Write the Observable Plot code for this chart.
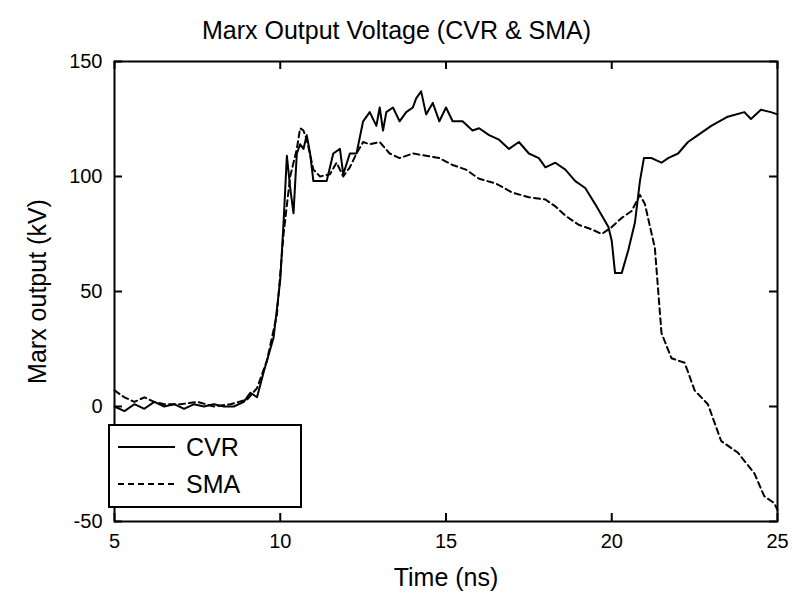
<!DOCTYPE html><html><head><meta charset="utf-8">
<script src="https://cdn.jsdelivr.net/npm/d3@7"></script>
<script src="https://cdn.jsdelivr.net/npm/@observablehq/plot@0.6"></script>
<style>body{margin:0;background:#fff;font-family:"Liberation Sans",Arial,sans-serif}
#t{height:50px;text-align:center;font-size:25px;line-height:60px}
#wrap{position:relative;width:793px}
#leg{position:absolute;left:108px;top:374px;width:190px;height:80px;border:2px solid #000;background:#fff}
</style></head><body>
<div id="t">Marx Output Voltage (CVR &amp; SMA)</div>
<div id="wrap"><div id="chart"></div>
<div id="leg"><svg width="190" height="80">
<line x1="8" x2="65" y1="21" y2="21" stroke="#000" stroke-width="2"/>
<text x="76" y="30" font-size="25">CVR</text>
<line x1="8" x2="65" y1="58" y2="58" stroke="#000" stroke-width="2" stroke-dasharray="6,4"/>
<text x="76" y="67" font-size="25">SMA</text></svg></div></div>
<script>
const cvrT=[5,5.3,5.6,5.9,6.2,6.5,6.8,7.1,7.4,7.7,8,8.3,8.6,8.9,9.1,9.3,9.5,9.8,10,10.1,10.2,10.3,10.4,10.5,10.6,10.7,10.8,10.9,11,11.2,11.4,11.6,11.8,11.9,12.1,12.3,12.5,12.7,12.9,13,13.1,13.2,13.4,13.6,13.8,14,14.1,14.25,14.4,14.6,14.8,15,15.2,15.5,15.8,16,16.3,16.6,16.9,17.2,17.5,17.8,18,18.3,18.6,18.9,19.2,19.5,19.7,19.9,20,20.1,20.3,20.5,20.7,20.85,20.97,21.2,21.5,21.7,22,22.3,22.6,23,23.5,24,24.2,24.5,24.8,25];
const cvrV=[0,-2,1,-1,2,0,1,-1,1,0,1,0,0,2,6,4,15,30,55,80,109,95,84,110,114,112,118,110,98,98,98,110,112,101,110,110,124,128,122,130,120,128,130,124,128,130,134,137,127,132,124,130,124,124,120,121,118,116,112,115,110,108,104,106,103,98,95,88,83,78,72,58,58,68,80,98,108,108,106,108,110,115,118,122,126,128,125,129,128,127];
const smaT=[5,5.3,5.6,5.9,6.2,6.5,7,7.5,8,8.5,9,9.3,9.6,9.9,10.1,10.3,10.5,10.6,10.7,10.8,11,11.2,11.5,11.7,11.9,12.1,12.3,12.5,12.7,13,13.3,13.6,14,14.4,14.8,15.2,15.6,16,16.5,17,17.5,18,18.3,18.6,19,19.4,19.7,20,20.3,20.6,20.85,21,21.3,21.5,21.8,22.2,22.5,22.9,23.3,23.8,24.3,24.6,24.9,25];
const smaV=[7,4,2,4,2,1,1,2,0,1,3,8,20,40,75,100,112,121,120,116,103,100,101,106,100,104,110,115,114,115,110,108,110,109,108,105,103,99,97,93,91,90,87,83,79,77,75,78,82,85,92,88,69,32,21,19,7,1,-15,-20,-29,-39,-42,-45];
const xTicks=[5,10,15,20,25], yTicks=[-50,0,50,100,150];
const cvr=cvrT.map((t,i)=>({t,v:cvrV[i]})), sma=smaT.map((t,i)=>({t,v:smaV[i]}));
const tk=8/2.3, tkx=8/33.15;
const svg=Plot.plot({width:793,height:549,marginTop:11,marginBottom:78,marginLeft:114,marginRight:16,
style:{fontFamily:"Liberation Sans, Arial",color:"#000",overflow:"visible"},
marks:[
Plot.axisX(xTicks,{tickSize:0,tickPadding:12,tickFormat:d=>String(d),label:"Time (ns)",labelArrow:"none",labelAnchor:"center",labelOffset:64}),
Plot.axisY(yTicks,{tickSize:0,tickPadding:12,tickFormat:d=>String(d),label:"Marx output (kV)",labelArrow:"none",labelAnchor:"center",labelOffset:86}),
Plot.ruleX(xTicks,{y1:-50,y2:-50+tk,strokeWidth:2}),
Plot.ruleX(xTicks,{y1:150,y2:150-tk,strokeWidth:2}),
Plot.ruleY(yTicks,{x1:5,x2:5+tkx,strokeWidth:2}),
Plot.ruleY(yTicks,{x1:25,x2:25-tkx,strokeWidth:2}),
Plot.line(sma,{x:"t",y:"v",strokeWidth:2,strokeDasharray:"6,4"}),
Plot.line(cvr,{x:"t",y:"v",strokeWidth:2}),
Plot.frame({strokeWidth:2})
],
x:{domain:[5,25]}, y:{domain:[-50,150]}});
svg.querySelectorAll('text').forEach(e=>e.style.fontSize="20px");
svg.querySelectorAll('g[aria-label="x-axis label"] text, g[aria-label="y-axis label"] text').forEach(e=>e.style.fontSize="25px");
document.getElementById("chart").append(svg);
</script></body></html>
